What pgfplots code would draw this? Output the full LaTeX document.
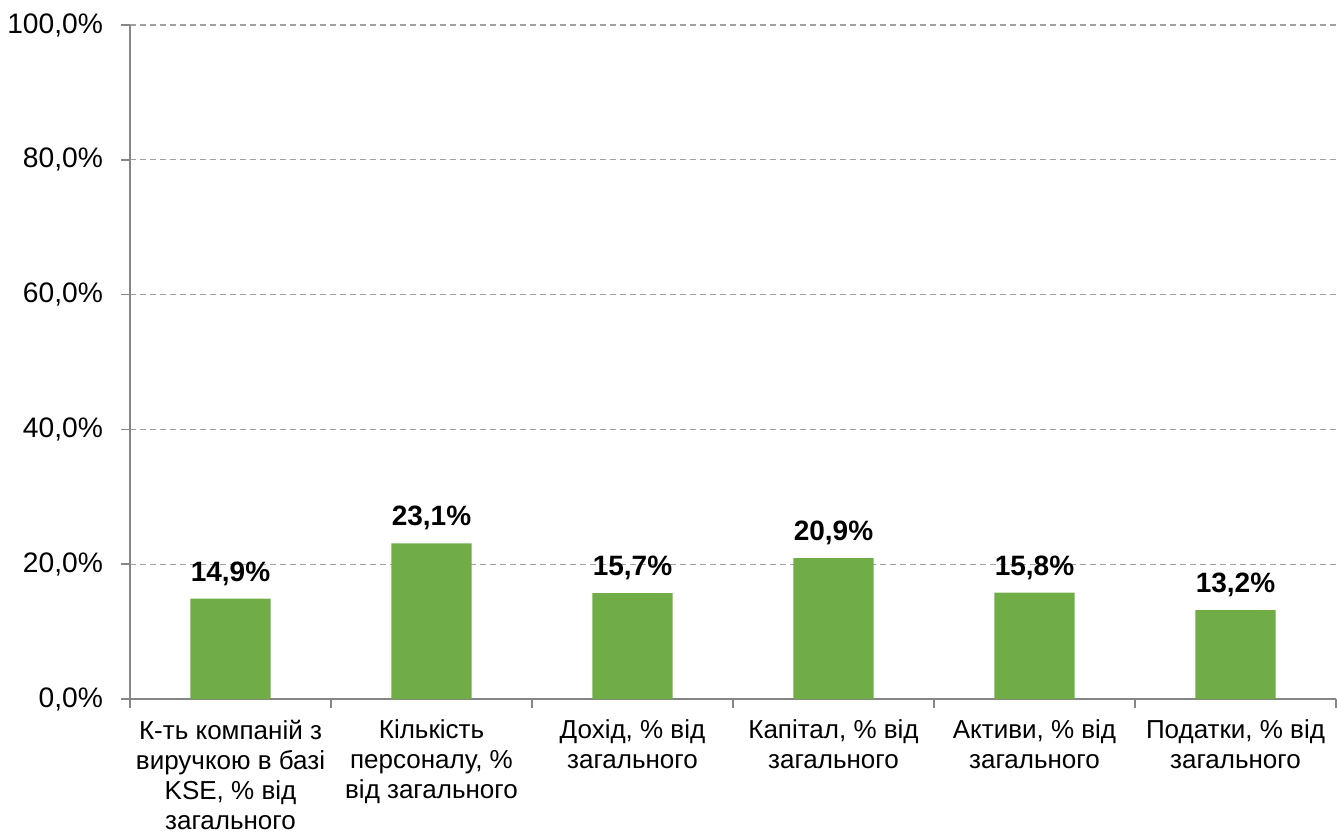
\documentclass[border=0pt]{standalone}
\usepackage{pgfplots}
\pgfplotsset{compat=1.18}
\usepackage{fontspec}
\setmainfont{Liberation Sans}
\definecolor{bargreen}{HTML}{70AD47}
\definecolor{axgray}{HTML}{868686}
\definecolor{gridgray}{HTML}{A0A0A0}
\begin{document}
\begin{tikzpicture}
\begin{axis}[
  at={(0,0)}, anchor=south west,
  scale only axis,
  width=603pt, height=337pt,
  xmin=-0.5, xmax=5.5,
  ymin=0, ymax=100,
  axis x line*=bottom,
  axis y line*=left,
  axis line style={axgray, line width=0.8pt},
  xtick={0,1,2,3,4,5},
  xticklabels={{К-ть компаній з\\виручкою в базі\\KSE, \% від\\загального},
               {Кількість\\персоналу, \%\\від загального},
               {Дохід, \% від\\загального},
               {Капітал, \% від\\загального},
               {Активи, \% від\\загального},
               {Податки, \% від\\загального}},
  xticklabel style={align=center, font=\fontsize{13}{15}\selectfont, text=black, yshift=-2.5pt},
  major x tick style={draw=none},
  minor xtick={-0.5,0.5,1.5,2.5,3.5,4.5,5.5},
  minor tick length=4.5pt,
  minor x tick style={axgray, line width=0.8pt},
  ytick={0,20,40,60,80,100},
  yticklabel={\pgfmathprintnumber[fixed,fixed zerofill,precision=1,use comma,assume math mode=true]{\tick}\%},
  yticklabel style={font=\fontsize{14.1}{16}\selectfont, text=black, xshift=-5.5pt},
  major tick length=4.5pt,
  tick align=outside,
  major y tick style={axgray, line width=0.8pt},
  ymajorgrids,
  grid style={gridgray, dash pattern=on 3pt off 2pt, line width=0.6pt},
  ybar,
  bar width=0.4,
  nodes near coords={\pgfmathprintnumber[fixed,fixed zerofill,precision=1,use comma,assume math mode=true]{\pgfplotspointmeta}\%},
  nodes near coords style={font=\bfseries\fontsize{14}{16}\selectfont, text=black, anchor=south, yshift=3pt},
  clip=false,
]
\addplot[fill=bargreen, draw=none] coordinates {(0,14.9) (1,23.1) (2,15.7) (3,20.9) (4,15.8) (5,13.2)};
\end{axis}
\path[use as bounding box] (-65pt,-66.5pt) rectangle (603.5pt,349.5pt);
\end{tikzpicture}
\end{document}
